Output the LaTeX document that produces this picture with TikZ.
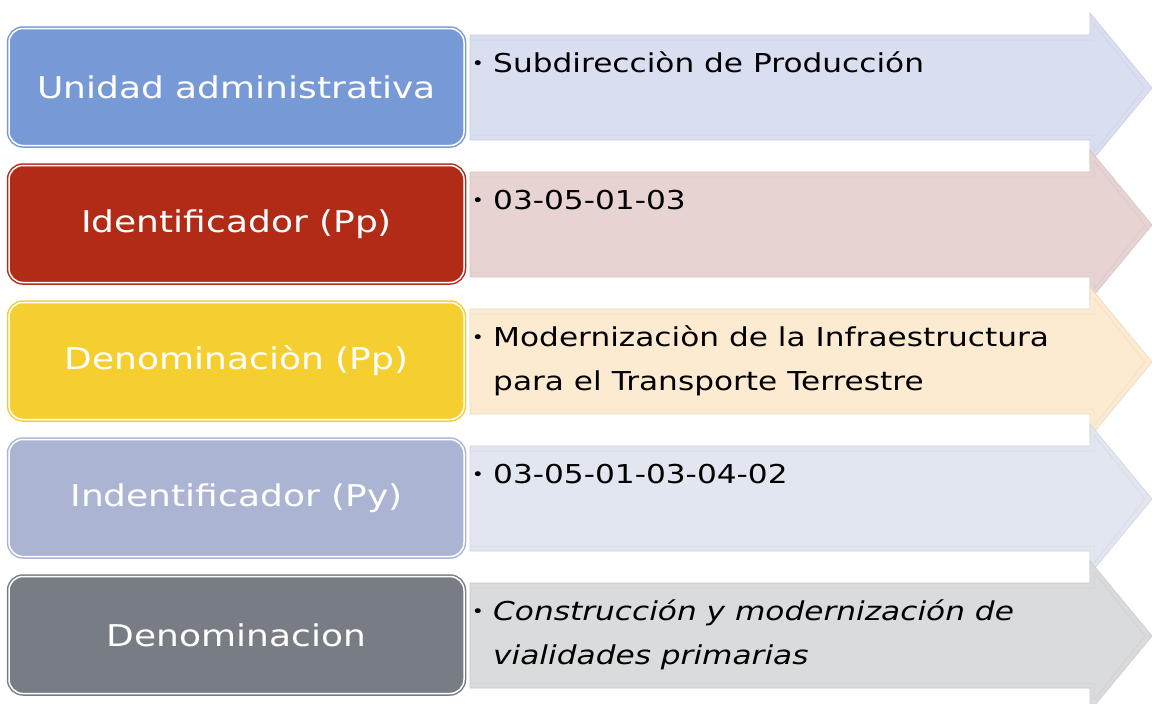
\documentclass[tikz,border=0pt]{standalone}
\usepackage{fontspec}
\setmainfont{DejaVu Sans}[FakeStretch=1.2]
\definecolor{cA}{HTML}{7799D6}
\definecolor{cB}{HTML}{B22B17}
\definecolor{cC}{HTML}{F5CE2F}
\definecolor{cD}{HTML}{ABB5D3}
\definecolor{cE}{HTML}{787C84}
\definecolor{aA}{HTML}{D9DEF1}
\definecolor{aB}{HTML}{E8D3D3}
\definecolor{aC}{HTML}{FCEBD1}
\definecolor{aD}{HTML}{E2E6F1}
\definecolor{aE}{HTML}{DADBDD}
\begin{document}
\begin{tikzpicture}[x=1pt,y=-1pt,
  lbox/.style={rounded corners=14pt, minimum width=455pt, minimum height=117pt,
    fill=#1, draw=white, line width=1.5pt, preaction={draw=#1, line width=4.5pt},
    text=white, font=\fontsize{30}{34}\selectfont, inner sep=0pt},
  rtext/.style={anchor=base west, inner sep=0pt, align=left,
    font=\fontsize{26}{44}\selectfont, text=black},
  bul/.style={anchor=center, inner sep=0pt, font=\fontsize{17}{18}\selectfont, text=black},
  arr/.style={fill=#1, draw=#1!92!black, line width=0.6pt}
]
\useasboundingbox (0,0) rectangle (1152,704);
\fill[white] (0,0) rectangle (1152,704);
% arrows
\foreach \c/\col in {88/aA,225/aB,362/aC,499/aD,636/aE}{
  \draw[arr=\col] (470,\c-53) -- (1090,\c-53) -- (1090,\c-75) -- (1152,\c) --
    (1090,\c+75) -- (1090,\c+52) -- (470,\c+52) -- cycle;
  \draw[\col!94!black, line width=0.5pt] (470,\c-48) -- (1094,\c-48) -- (1094,\c-64) --
    (1145,\c) -- (1094,\c+64) -- (1094,\c+47) -- (470,\c+47);
}
% left boxes
\node[lbox=cA] (b1) at (236.5,87) {Unidad administrativa};
\node[lbox=cB] (b2) at (236.5,224) {Identificador (Pp)};
\node[lbox=cC] (b3) at (236.5,361) {Denominaciòn (Pp)};
\node[lbox=cD] (b4) at (236.5,498) {Indentificador (Py)};
\node[lbox=cE] (b5) at (236.5,635) {Denominacion};
% right texts
\node[bul] (p1) at (478,65.5) {•};
\node[bul] (p2) at (478,202.5) {•};
\node[bul] (p3) at (478,339.5) {•};
\node[bul] (p4) at (478,476.5) {•};
\node[bul] (p5) at (478,613.5) {•};
\node[rtext] (t1) at (493,72) {Subdirecciòn de Producción};
\node[rtext] (t2) at (493,209) {03-05-01-03};
\node[rtext] (t3) at (493,390) {Modernizaciòn de la Infraestructura\\para el Transporte Terrestre};
\node[rtext] (t4) at (493,483) {03-05-01-03-04-02};
\node[rtext] (t5) at (493,664) {\itshape Construcción y modernización de\\\itshape vialidades primarias};
\end{tikzpicture}
\end{document}
